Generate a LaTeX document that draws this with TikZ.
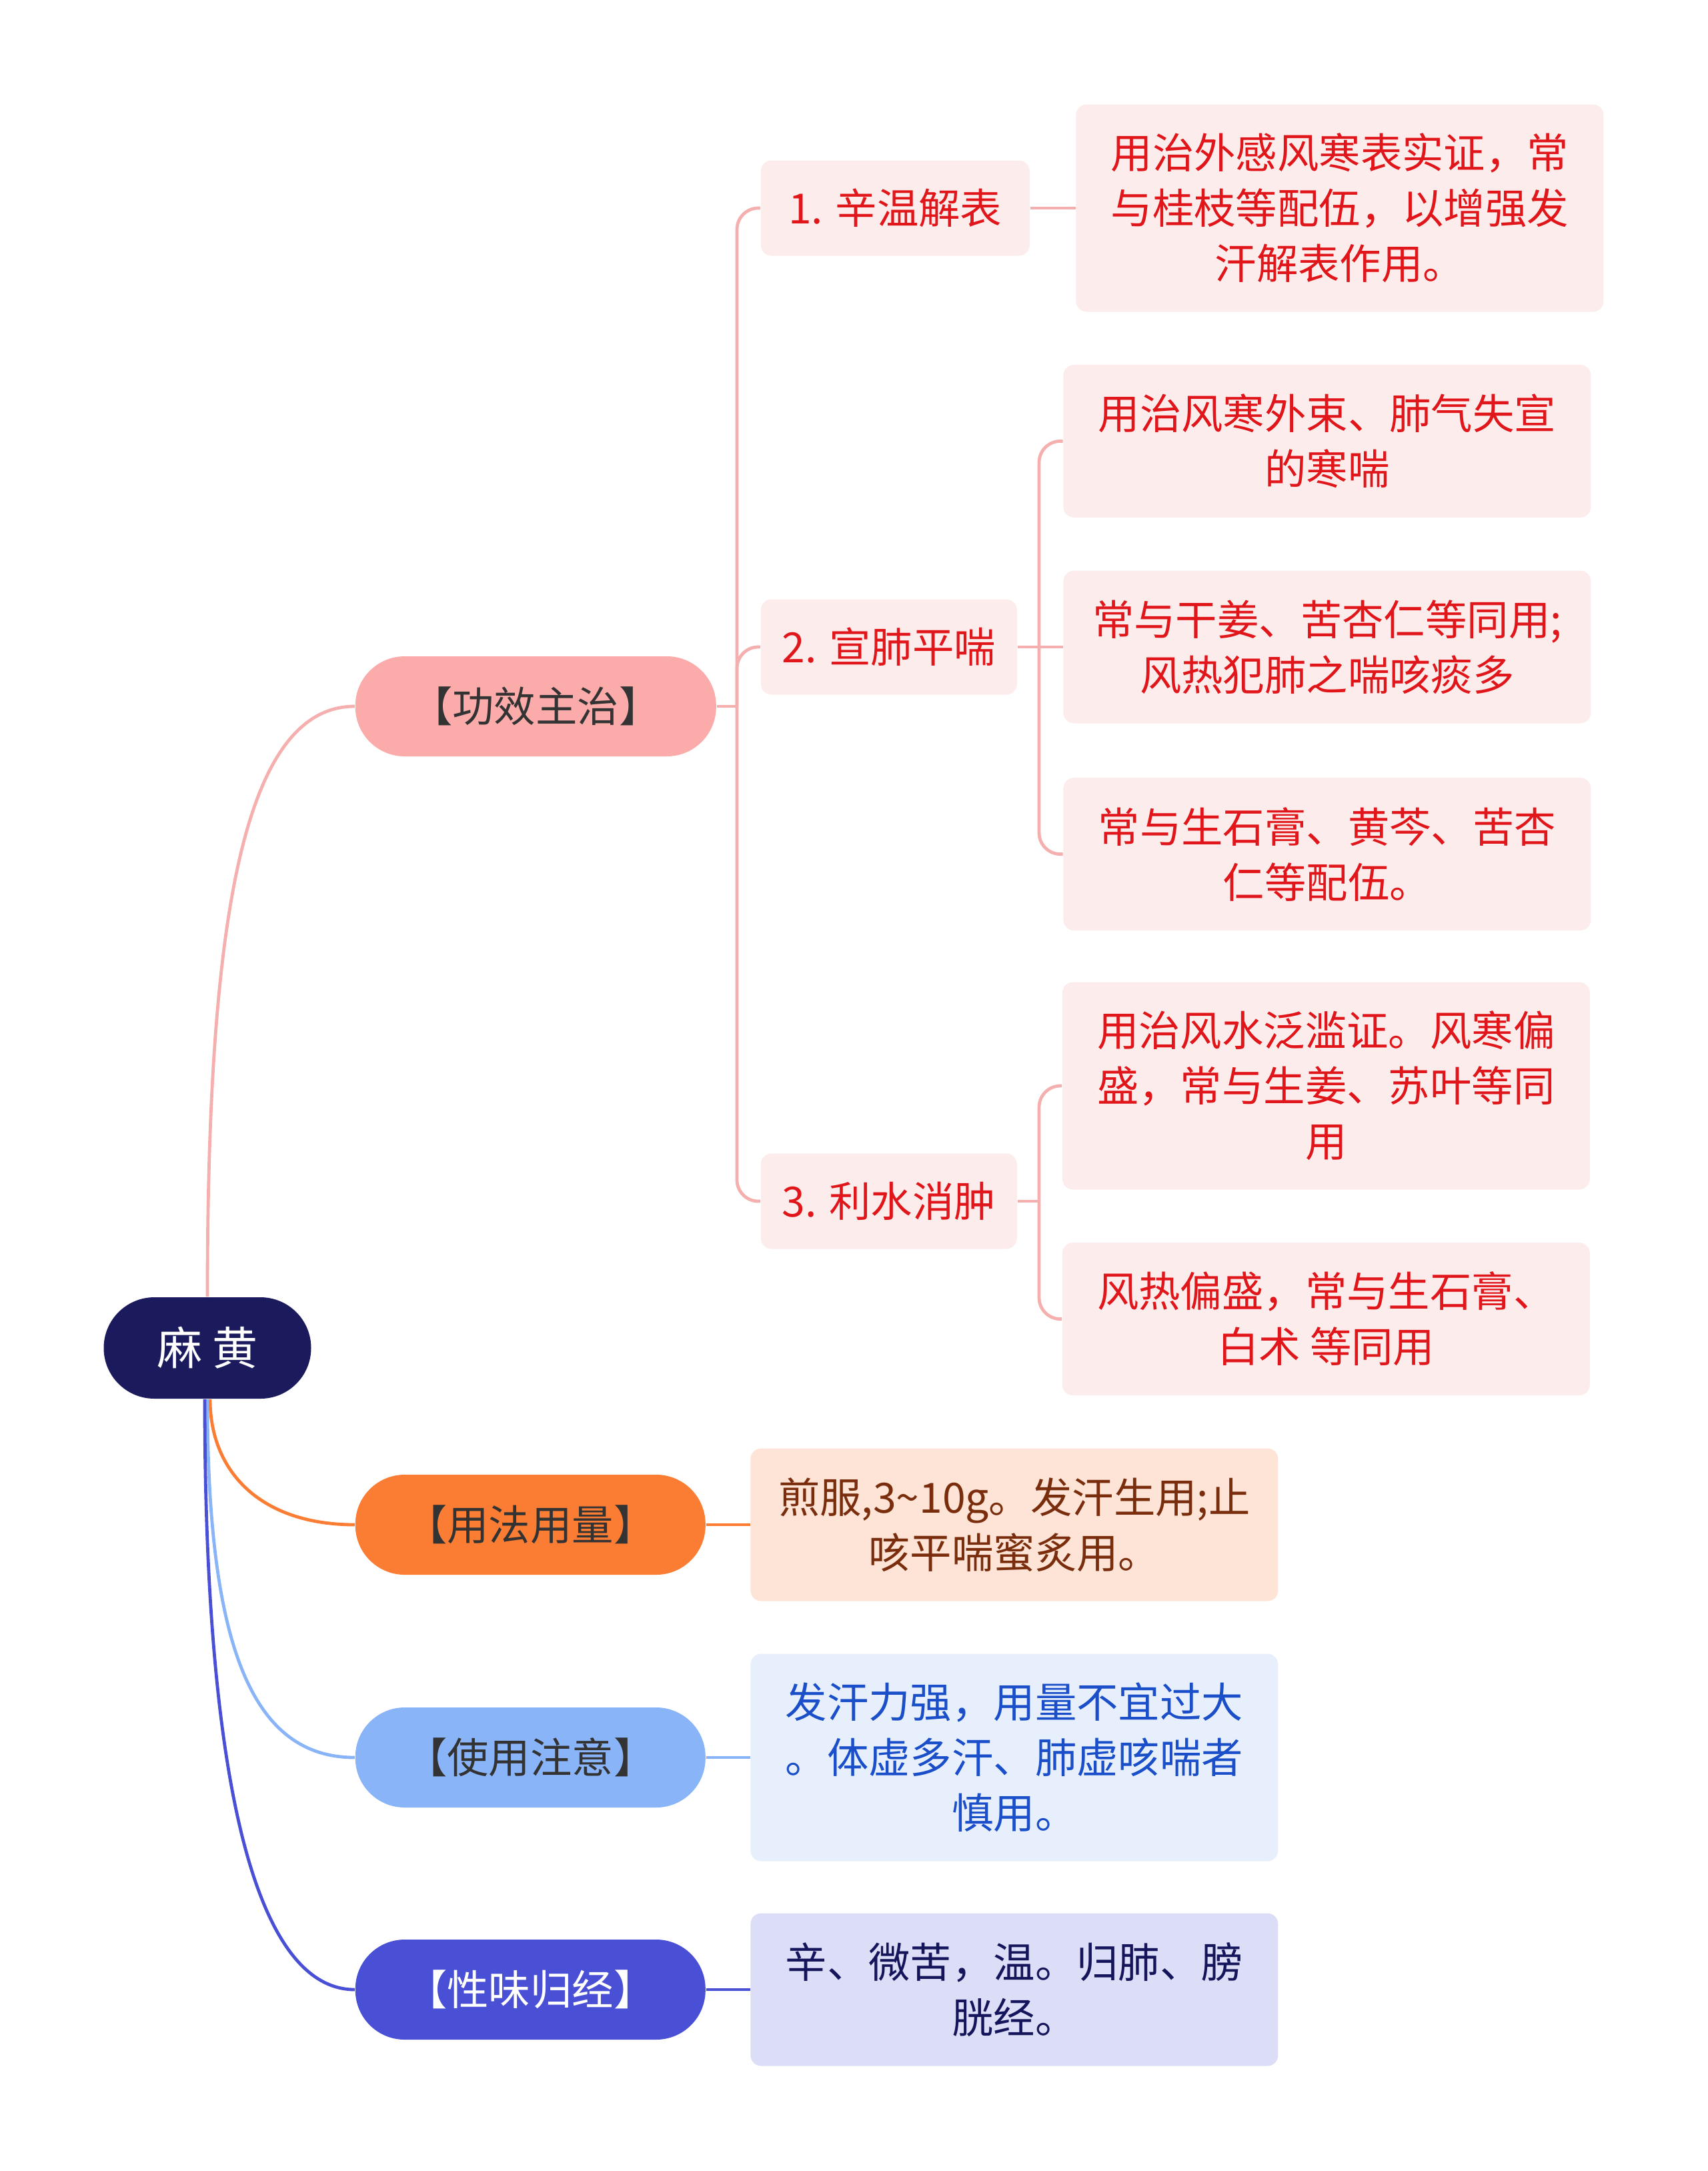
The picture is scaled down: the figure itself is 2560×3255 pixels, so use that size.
\documentclass[tikz,border=0pt]{standalone}
\usepackage{fontspec}
\setmainfont{Noto Sans CJK SC}
\usepackage{tikz}
\usetikzlibrary{positioning,calc}
\definecolor{rootblue}{HTML}{1B1A5C}
\definecolor{darktext}{HTML}{333333}
\definecolor{gxpink}{HTML}{FBACAA}
\definecolor{gxline}{HTML}{F5AFAF}
\definecolor{gxleaf}{HTML}{FDECEC}
\definecolor{gxtext}{HTML}{E0161B}
\definecolor{yforange}{HTML}{FB7D33}
\definecolor{yfleaf}{HTML}{FEE4D6}
\definecolor{yftext}{HTML}{7A2D0D}
\definecolor{zylight}{HTML}{8AB4F8}
\definecolor{zyleaf}{HTML}{E7EFFC}
\definecolor{zytext}{HTML}{1A4FC9}
\definecolor{xwindigo}{HTML}{4A50D6}
\definecolor{xwleaf}{HTML}{DCDDF6}
\definecolor{xwtext}{HTML}{15155B}
\tikzset{
    rootnode/.style={
        rectangle,
        rounded corners=19pt,
        fill=rootblue,
        text=white,
        minimum width=77.75pt,
        minimum height=38pt,
        inner sep=0pt,
        font=\fontsize{17pt}{20pt}\selectfont
    },
    mainbranch/.style={
        rectangle,
        rounded corners=18.5pt,
        minimum width=131.25pt,
        minimum height=37.5pt,
        inner sep=0pt,
        text=darktext,
        anchor=west,
        font=\fontsize{15.6pt}{20pt}\selectfont
    },
    subtopic/.style={
        rectangle,
        rounded corners=4pt,
        fill=gxleaf,
        text=gxtext,
        minimum height=35.75pt,
        inner sep=0pt,
        anchor=west,
        font=\fontsize{15.6pt}{20pt}\selectfont
    },
    leafbox/.style={
        rectangle,
        rounded corners=4pt,
        minimum width=197.75pt,
        inner sep=0pt,
        align=center,
        anchor=west,
        font=\fontsize{15.6pt}{20.75pt}\selectfont
    },
    twoline/.style={minimum height=57.25pt},
    threeline/.style={minimum height=77.75pt},
    link/.style={line width=1.2pt}
}
\begin{document}
\begin{tikzpicture}[x=0.25pt, y=-0.25pt]
\useasboundingbox (0,0) rectangle (2560,3255);

% root
\node[rootnode] (root) at (311,2021) {麻 黄};

% 功效主治
\node[mainbranch, fill=gxpink, minimum width=135.25pt] (gxzz) at (532,1059) {【功效主治】};
\node[subtopic, minimum width=100.75pt] (xwjb) at (1140,312) {1. 辛温解表};
\node[leafbox, threeline, fill=gxleaf, text=gxtext, right=17pt of xwjb] (xwjb-note) {用治外感风寒表实证，常\\与桂枝等配伍，以增强发\\汗解表作用。};
\node[subtopic, minimum width=96pt] (xfpc) at (1140,970) {2. 宣肺平喘};
\node[leafbox, twoline, fill=gxleaf, text=gxtext, right=17pt of xfpc] (xfpc-b) {常与干姜、苦杏仁等同用;\\风热犯肺之喘咳痰多};
\node[leafbox, twoline, fill=gxleaf, text=gxtext, above=19.5pt of xfpc-b] (xfpc-a) {用治风寒外束、肺气失宣\\的寒喘};
\node[leafbox, twoline, fill=gxleaf, text=gxtext, below=20pt of xfpc-b] (xfpc-c) {常与生石膏、黄芩、苦杏\\仁等配伍。};
\node[subtopic, minimum width=96pt] (lsxz) at (1140,1801) {3. 利水消肿};
\node[leafbox, threeline, fill=gxleaf, text=gxtext] (lsxz-a) at (1592,1628) {用治风水泛滥证。风寒偏\\盛，常与生姜、苏叶等同\\用};
\node[leafbox, twoline, fill=gxleaf, text=gxtext, below=19.5pt of lsxz-a] (lsxz-b) {风热偏盛，常与生石膏、\\白术 等同用};

% 用法用量
\node[mainbranch, fill=yforange] (yfyl) at (532,2286) {【用法用量】};
\node[leafbox, twoline, fill=yfleaf, text=yftext, right=16.5pt of yfyl] (yfyl-note) {煎服,3\textasciitilde 10g。发汗生用;止\\咳平喘蜜炙用。};

% 使用注意
\node[mainbranch, fill=zylight] (syzy) at (532,2635) {【使用注意】};
\node[leafbox, threeline, fill=zyleaf, text=zytext, right=16.5pt of syzy] (syzy-note) {发汗力强，用量不宜过大\\。体虚多汗、肺虚咳喘者\\慎用。};

% 性味归经
\node[mainbranch, fill=xwindigo, text=white] (xwgj) at (532,2983) {【性味归经】};
\node[leafbox, twoline, fill=xwleaf, text=xwtext, right=16.5pt of xwgj] (xwgj-note) {辛、微苦，温。归肺、膀\\胱经。};

% root to branches
\draw[link, gxline] (root.north) .. controls +(0,-545) and +(-172,0) .. (gxzz.west);
\draw[link, yforange] ([xshift=1pt]root.south) .. controls +(0,110) and +(-140,0) .. (yfyl.west);
\draw[link, zylight] (root.south) .. controls +(0,380) and +(-150,0) .. (syzy.west);
\draw[link, xwindigo] ([xshift=-1pt]root.south) .. controls +(0,600) and +(-142,0) .. (xwgj.west);

% 功效主治 to its topics
\coordinate (gx-join) at (1105,1059);
\draw[link, gxline] (gxzz.east) -- (gx-join);
\draw[link, gxline, rounded corners=8pt] (gx-join) |- (xwjb.west);
\draw[link, gxline, rounded corners=8pt] (gx-join) |- (xfpc.west);
\draw[link, gxline, rounded corners=8pt] (gx-join) |- (lsxz.west);

\draw[link, gxline] (xwjb.east) -- (xwjb-note.west);

\coordinate (xf-join) at (1558,970);
\draw[link, gxline] (xfpc.east) -- (xfpc-b.west);
\draw[link, gxline, rounded corners=8pt] (xf-join) |- (xfpc-a.west);
\draw[link, gxline, rounded corners=8pt] (xf-join) |- (xfpc-c.west);

\coordinate (ls-join) at (1558,1801);
\draw[link, gxline] (lsxz.east) -- (ls-join);
\draw[link, gxline, rounded corners=8pt] (ls-join) |- (lsxz-a.west);
\draw[link, gxline, rounded corners=8pt] (ls-join) |- (lsxz-b.west);

% other branches to notes
\draw[link, yforange] (yfyl.east) -- (yfyl-note.west);
\draw[link, zylight] (syzy.east) -- (syzy-note.west);
\draw[link, xwindigo] (xwgj.east) -- (xwgj-note.west);
\end{tikzpicture}
\end{document}
